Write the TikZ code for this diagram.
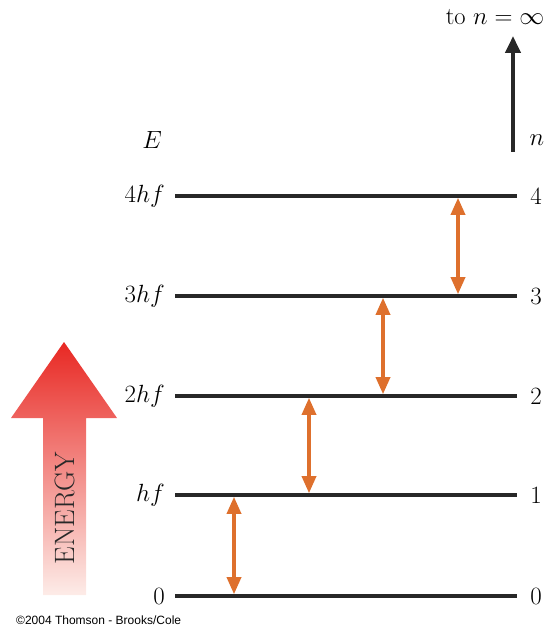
\documentclass[tikz,border=0pt]{standalone}
\usepackage{fontspec}
\newfontfamily\cpfont{Liberation Sans}
\usetikzlibrary{arrows.meta}
\definecolor{lvl}{RGB}{40,40,40}
\definecolor{trans}{RGB}{222,112,45}
\definecolor{enTop}{RGB}{232,40,35}
\definecolor{enMid}{RGB}{242,120,100}
\definecolor{enBot}{RGB}{253,236,232}
\tikzset{
  level/.style={draw=lvl, line width=3.3pt},
  lab/.style={font=\fontsize{24.5}{28}\selectfont, inner sep=0pt},
  transarrow/.style={draw=trans, line width=3.4pt, {Triangle[length=17pt,width=14pt]}-{Triangle[length=17pt,width=14pt]}, shorten <=1.8pt, shorten >=1.8pt},
  uparrow/.style={draw=lvl, line width=4pt, -{Triangle[length=17pt,width=15pt]}}
}
\begin{document}
\begin{tikzpicture}[x=1pt,y=-1pt]
\useasboundingbox (0,0) rectangle (547,628);
% levels
\foreach \i/\y in {0/596,1/495,2/396,3/296,4/196}{
  \coordinate (a\i) at (175,\y);
  \coordinate (b\i) at (517,\y);
}
\node[lab, anchor=east] (l0) at (165,596) {$0$};
\node[lab, anchor=east] (l1) at (165,495) {$hf$};
\node[lab, anchor=east] (l2) at (165,396) {$2hf$};
\node[lab, anchor=east] (l3) at (165,296) {$3hf$};
\node[lab, anchor=east] (l4) at (165,196) {$4hf$};
\node[lab] (n0) at (536,596) {$0$};
\node[lab] (n1) at (536,495) {$1$};
\node[lab] (n2) at (536,396) {$2$};
\node[lab] (n3) at (536,296) {$3$};
\node[lab] (n4) at (536,196) {$4$};
\foreach \i in {0,...,4}{\draw[level] (a\i) -- (b\i);}
\node[lab] (E) at (152,140) {$E$};
\node[lab] (n) at (537,140) {$n$};
\node[lab] (inf) at (495,17) {to $n=\infty$};
\coordinate (ub) at (513,152);
\coordinate (ut) at (513,36);
\draw[uparrow] (ub) -- (ut);
% transitions
\coordinate (t1a) at (234,596); \coordinate (t1b) at (234,495);
\coordinate (t2a) at (309,495); \coordinate (t2b) at (309,396);
\coordinate (t3a) at (383,396); \coordinate (t3b) at (383,296);
\coordinate (t4a) at (458,296); \coordinate (t4b) at (458,196);
\draw[transarrow] (t1a) -- (t1b);
\draw[transarrow] (t2a) -- (t2b);
\draw[transarrow] (t3a) -- (t3b);
\draw[transarrow] (t4a) -- (t4b);
% energy arrow
\shade[top color=enTop, middle color=enMid, bottom color=enBot]
  (43,595) -- (43,418) -- (11,418) -- (64,342) -- (117,418) -- (86,418) -- (86,595) -- cycle;
\node[font=\fontsize{28}{32}\selectfont, rotate=90, text=lvl, inner sep=0pt] (energy) at (65,508) {ENERGY};
\node[font=\cpfont\fontsize{12}{14}\selectfont, anchor=west, inner sep=0pt] (cp) at (16,620) {\textcopyright 2004 Thomson - Brooks/Cole};
\end{tikzpicture}
\end{document}
